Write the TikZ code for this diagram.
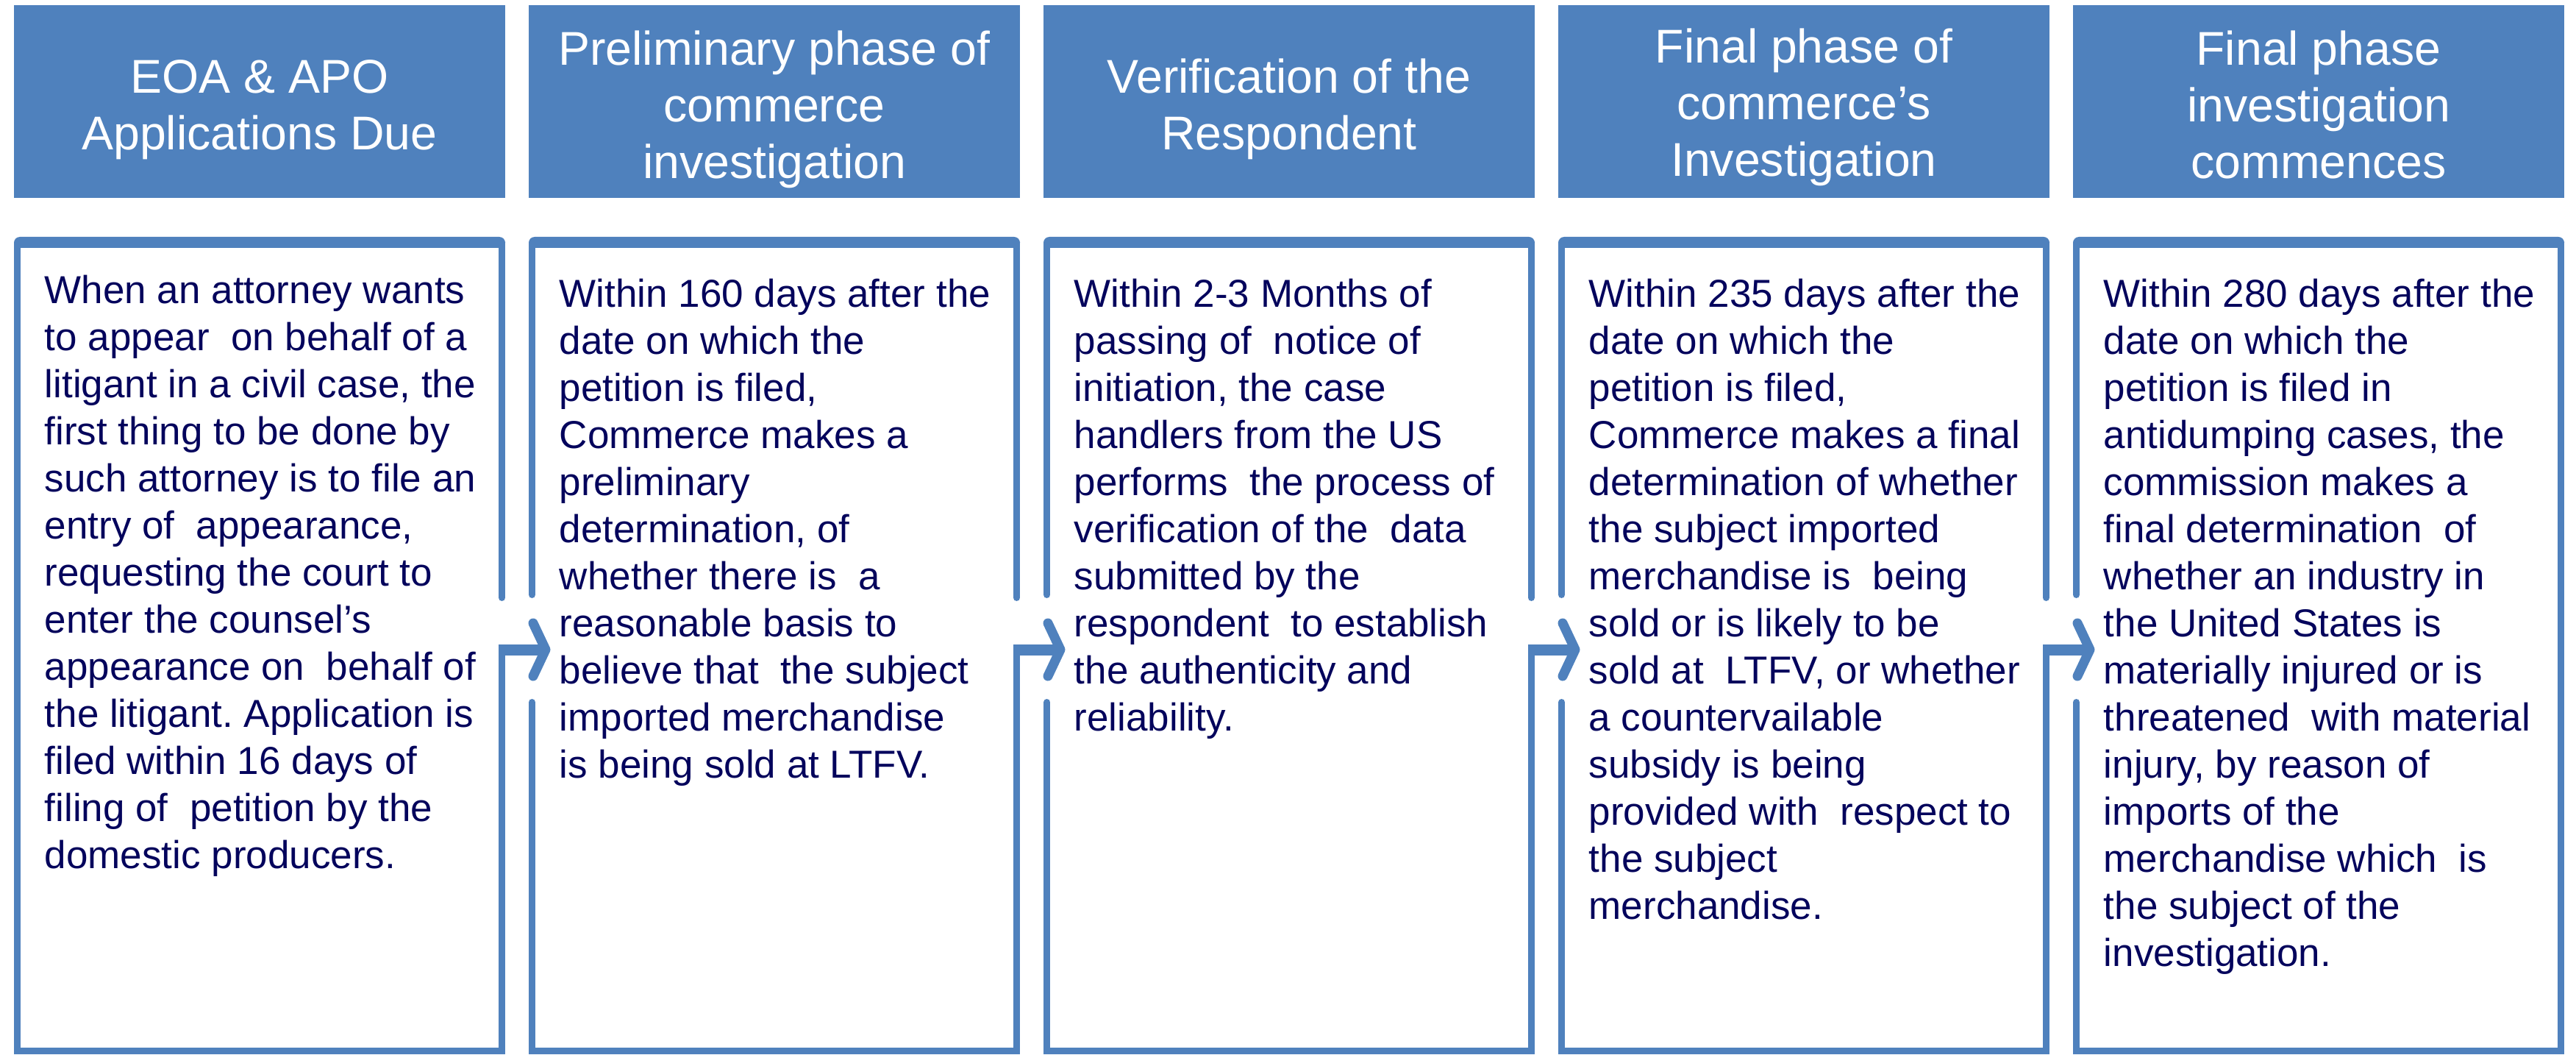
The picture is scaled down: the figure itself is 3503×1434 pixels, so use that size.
\documentclass[tikz,border=0pt]{standalone}
\usepackage{fontspec}
\setmainfont{Liberation Sans}
\definecolor{hdrblue}{RGB}{79,129,189}
\definecolor{txtnavy}{RGB}{4,4,92}
\frenchspacing
\begin{document}
\begin{tikzpicture}[x=0.25pt,y=-0.25pt,
  hdr/.style={fill=hdrblue,draw=none,minimum width=167pt,minimum height=65.5pt,inner sep=0pt,outer sep=0pt,anchor=north west},
  hdrtxt/.style={text=white,align=center,inner sep=0pt,font=\fontsize{16.1pt}{19.25pt}\selectfont},
  bodytxt/.style={text=txtnavy,align=left,inner sep=0pt,anchor=north west,font=\fontsize{13.25pt}{16pt}\selectfont},
  bord/.style={draw=hdrblue,line width=2.25pt,line cap=round,line join=miter},
  shaft/.style={draw=hdrblue,line width=3.75pt},
  chev/.style={draw=hdrblue,line width=3.25pt,line cap=round,line join=round}]
\useasboundingbox (0,0) rectangle (3503,1434);

\foreach \i in {0,...,4} {
  \pgfmathsetmacro{\L}{19+700*\i}
  \pgfmathsetmacro{\R}{687+700*\i}
  % header block
  \node[hdr] (h\i) at (\L,7) {};
  % top band of body frame
  \fill[hdrblue,rounded corners=2pt] (\L,337) -- (\L,322) -- (\R,322) -- (\R,337) -- cycle;
  % left side
  \ifnum\i=0
    \draw[bord] (\L+4.5,330) -- (\L+4.5,1428.5) -- (\R-4.5,1428.5) -- (\R-4.5,883);
  \else
    \draw[bord] (\L+4.5,330) -- (\L+4.5,808.5);
    \ifnum\i=4
      \draw[bord] (\L+4.5,954.5) -- (\L+4.5,1428.5) -- (\R-4.5,1428.5) -- (\R-4.5,330);
    \else
      \draw[bord] (\L+4.5,954.5) -- (\L+4.5,1428.5) -- (\R-4.5,1428.5) -- (\R-4.5,883);
    \fi
  \fi
  % right side upper part and bent arrow
  \ifnum\i<4
    \draw[bord] (\R-4.5,330) -- (\R-4.5,812.5);
    \coordinate (s\i) at (\R-9,883);
    \coordinate (e\i) at (\R+55,883);
    \draw[shaft] (s\i) -- ([xshift=-1.5pt]e\i);
    \draw[chev] (e\i) ++(-17,-36) -- (e\i) -- ++(-17,36);
  \fi
}

% header texts
\node[hdrtxt] (h0t) at (353,150) {\strut EOA \& APO\\Applications Due\strut};
\node[hdrtxt] (h1t) at (1053,150) {\strut Preliminary phase of\\commerce\\investigation\strut};
\node[hdrtxt] (h2t) at (1753,150) {\strut Verification of the\\Respondent\strut};
\node[hdrtxt] (h3t) at (2453,147) {\strut Final phase of\\commerce’s\\Investigation\strut};
\node[hdrtxt] (h4t) at (3153,150) {\strut Final phase\\investigation\\commences\strut};

% body texts
\node[bodytxt] (t0) at (60,367.2) {\strut When an attorney wants\\
to appear\ \ on behalf of a\\
litigant in a civil case, the\\
first thing to be done by\\
such attorney is to file an\\
entry of\ \ appearance,\\
requesting the court to\\
enter the counsel’s\\
appearance on\ \ behalf of\\
the litigant. Application is\\
filed within 16 days of\\
filing of\ \ petition by the\\
domestic producers.};

\node[bodytxt] (t1) at (760,372.2) {\strut Within 160 days after the\\
date on which the\\
petition is filed,\\
Commerce makes a\\
preliminary\\
determination, of\\
whether there is\ \ a\\
reasonable basis to\\
believe that\ \ the subject\\
imported merchandise\\
is being sold at LTFV.};

\node[bodytxt] (t2) at (1460,372.2) {\strut Within 2-3 Months of\\
passing of\ \ notice of\\
initiation, the case\\
handlers from the US\\
performs\ \ the process of\\
verification of the\ \ data\\
submitted by the\\
respondent\ \ to establish\\
the authenticity and\\
reliability.};

\node[bodytxt] (t3) at (2160,372.2) {\strut Within 235 days after the\\
date on which the\\
petition is filed,\\
Commerce makes a final\\
determination of whether\\
the subject imported\\
merchandise is\ \ being\\
sold or is likely to be\\
sold at\ \ LTFV, or whether\\
a countervailable\\
subsidy is being\\
provided with\ \ respect to\\
the subject\\
merchandise.};

\node[bodytxt] (t4) at (2860,372.2) {\strut Within 280 days after the\\
date on which the\\
petition is filed in\\
antidumping cases, the\\
commission makes a\\
final determination\ \ of\\
whether an industry in\\
the United States is\\
materially injured or is\\
threatened\ \ with material\\
injury, by reason of\\
imports of the\\
merchandise which\ \ is\\
the subject of the\\
investigation.};
\end{tikzpicture}
\end{document}
